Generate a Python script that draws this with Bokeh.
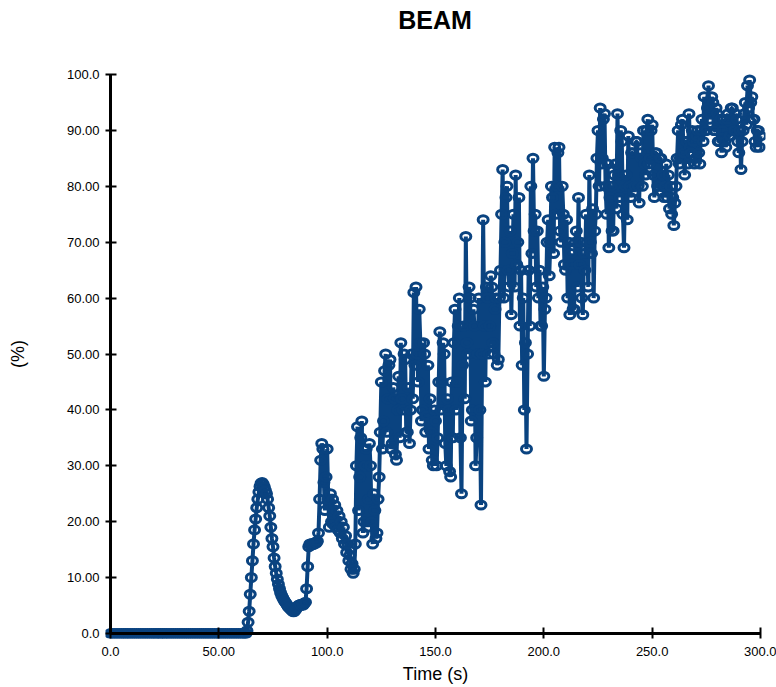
import numpy as np
from bokeh.plotting import figure
from bokeh.models import Range1d, FixedTicker, LinearAxis, Div
from bokeh.layouts import column
from bokeh.embed import file_html
from bokeh.resources import INLINE

# ---- data -------------------------------------------------------------
# 0 .. 61 s, 1 s sampling (beam off)
beam_off = [0.0, 0.0, 0.0, 0.0, 0.0, 0.0, 0.0, 0.0, 0.0, 0.0,
            0.0, 0.0, 0.0, 0.0, 0.0, 0.0, 0.0, 0.0, 0.0, 0.0,
            0.0, 0.0, 0.0, 0.0, 0.0, 0.0, 0.0, 0.0, 0.0, 0.0,
            0.0, 0.0, 0.0, 0.0, 0.0, 0.0, 0.0, 0.0, 0.0, 0.0,
            0.0, 0.0, 0.0, 0.0, 0.0, 0.0, 0.0, 0.0, 0.0, 0.0,
            0.0, 0.0, 0.0, 0.0, 0.0, 0.0, 0.0, 0.0, 0.0, 0.0,
            0.0, 0.0]
t_off_start = 0.0
t_off_step = 1.0

# 62 .. 112.5 s, 0.5 s sampling
beam_rise = [0, 0, 0.5, 2, 4, 7, 10, 13, 16, 18.5,
             20.5, 22.5, 24, 25.3, 26.3, 26.9, 27, 26.7, 26.2, 25.6,
             25, 24, 22.5, 21, 19, 17, 15.5, 13.5, 12, 10.8,
             9.7, 8.8, 8, 7.3, 6.8, 6.4, 6.0, 5.7, 5.4, 5.1,
             4.8, 4.6, 4.4, 4.2, 4.0, 3.9, 4.0, 4.3, 4.6, 4.9,
             5.1, 5.2, 5.0, 5.3, 5.1, 5.4, 5.6, 8, 12, 15.5,
             16, 15.8, 16.1, 15.9, 16, 16.3, 16.2, 16.5, 18, 24,
             31, 34, 33, 27, 22, 28, 33, 24, 19, 25,
             20, 24, 19.5, 23, 19, 22, 18.5, 21, 18, 20,
             17, 19, 16, 17.5, 14.5, 16, 13, 14, 11.5, 12.5,
             10.8, 11.5]
t_rise_start = 62.0
t_rise_step = 0.5

# 113 .. 300 s, 0.5 s sampling
beam_main = [16, 30, 37, 22, 28, 35, 38, 18, 20, 30,
             33, 19, 24, 34, 30, 20, 16, 25, 22, 17,
             18, 24, 28, 36, 45, 33, 38, 47, 50, 36,
             42, 48, 49, 33, 34, 44, 42, 32, 31, 40,
             46, 35, 52, 42, 40, 50, 49, 36, 36, 44,
             34, 40, 50, 42, 61, 48, 62, 50, 45, 58,
             52, 38, 40, 52, 50, 36, 39, 48, 33, 42,
             36, 31, 30, 40, 38, 30, 35, 45, 54, 40,
             45, 52, 50, 34, 30, 42, 40, 29, 28, 45,
             35, 52, 58, 40, 45, 55, 60, 35, 25, 48,
             55, 42, 71, 52, 50, 62, 60, 38, 40, 58,
             55, 30, 35, 50, 60, 40, 23, 50, 74, 55,
             45, 62, 60, 50, 55, 64, 62, 52, 50, 58,
             60, 48, 49, 60, 65, 75, 83, 60, 70, 78,
             80, 65, 62, 72, 57, 68, 75, 62, 82, 66,
             70, 78, 55, 65, 48, 60, 40, 52, 33, 50,
             65, 55, 80, 68, 85, 72, 75, 62, 72, 60,
             65, 55, 55, 62, 46, 58, 60, 70, 74, 64,
             70, 80, 78, 68, 87, 75, 80, 86, 87, 72,
             70, 80, 75, 66, 65, 74, 60, 70, 57, 68,
             66, 58, 58, 70, 72, 62, 78, 66, 70, 60,
             57, 68, 65, 75, 70, 62, 82, 70, 68, 76,
             60, 72, 75, 85, 90, 80, 94, 84, 85, 92,
             93, 80, 75, 84, 69, 78, 80, 72, 72, 82,
             84, 76, 93, 82, 78, 90, 88, 75, 69, 80,
             82, 74, 89, 80, 78, 86, 86, 79, 80, 88,
             88, 80, 77, 86, 85, 80, 90, 84, 82, 90,
             92, 84, 85, 90, 91, 82, 78, 86, 86, 80,
             80, 85, 85, 79, 82, 78, 80, 84, 78, 82,
             76, 80, 75, 78, 73, 77, 80, 85, 90, 84,
             85, 91, 92, 86, 82, 88, 88, 84, 93, 87,
             86, 90, 88, 84, 85, 89, 90, 86, 84, 90,
             92, 88, 96, 90, 90, 94, 98, 92, 93, 96,
             95, 90, 90, 94, 93, 88, 88, 92, 86, 90,
             92, 88, 87, 92, 93, 89, 89, 94, 94, 90,
             90, 93, 92, 88, 86, 90, 83, 88, 90, 93,
             95, 91, 98, 94, 99, 95, 96, 92, 92, 88,
             87, 90, 90, 87, 89]
t_main_start = 113.0
t_main_step = 0.5

x_ticks = [0, 50, 100, 150, 200, 250, 300]
x_tick_labels = ["0.0", "50.00", "100.0", "150.0", "200.0", "250.0", "300.0"]
y_ticks = [0, 10, 20, 30, 40, 50, 60, 70, 80, 90, 100]
y_tick_labels = ["0.0", "10.00", "20.00", "30.00", "40.00", "50.00",
                 "60.00", "70.00", "80.00", "90.00", "100.0"]

# ---- assemble series ---------------------------------------------------
t = np.concatenate([
    t_off_start + t_off_step * np.arange(len(beam_off)),
    t_rise_start + t_rise_step * np.arange(len(beam_rise)),
    t_main_start + t_main_step * np.arange(len(beam_main)),
])
v = np.concatenate([beam_off, beam_rise, beam_main]).astype(float)

NAVY = "#0a4380"
FONT = "Liberation Sans"

title = Div(text="BEAM", width=682, height=34, margin=(6, 0, 0, 94),
            styles={"font-family": FONT, "font-size": "25px",
                    "font-weight": "bold", "text-align": "center",
                    "color": "black", "line-height": "29px"})

p = figure(width=776, height=647, output_backend="svg", toolbar_location=None,
           x_range=Range1d(-2.31, 302.31), y_range=Range1d(-0.894, 100.894),
           min_border_left=105, min_border_right=11, min_border_top=29,
           min_border_bottom=49, margin=0)

p.xgrid.visible = False
p.ygrid.visible = False
p.outline_line_color = None
p.background_fill_color = "white"
p.border_fill_color = "white"

# label-only axes at the frame edges
for ax in (p.xaxis[0], p.yaxis[0]):
    ax.axis_line_color = None
    ax.major_tick_line_color = None
    ax.major_tick_in = 0
    ax.major_tick_out = 0
    ax.minor_tick_line_color = None
    ax.major_label_text_font = FONT
    ax.major_label_text_font_size = "13px"
    ax.major_label_text_color = "black"
    ax.axis_label_text_font = FONT
    ax.axis_label_text_font_size = "18px"
    ax.axis_label_text_font_style = "normal"
    ax.axis_label_text_color = "black"

p.xaxis[0].ticker = FixedTicker(ticks=x_ticks)
p.yaxis[0].ticker = FixedTicker(ticks=y_ticks)
p.xaxis[0].major_label_overrides = dict(zip(x_ticks, x_tick_labels))
p.yaxis[0].major_label_overrides = dict(zip(y_ticks, y_tick_labels))
p.xaxis[0].axis_label = "Time (s)"
p.yaxis[0].axis_label = "(%)"
p.xaxis[0].major_label_standoff = 8
p.yaxis[0].major_label_standoff = 6
p.xaxis[0].axis_label_standoff = 5
p.yaxis[0].axis_label_standoff = 36


# line + tick axes sitting at data zero
def line_axis(ticks, lo, hi):
    ax = LinearAxis(fixed_location=0, ticker=FixedTicker(ticks=ticks),
                    bounds=(lo, hi))
    ax.axis_line_width = 3
    ax.axis_line_color = "black"
    ax.major_tick_line_width = 2
    ax.major_tick_line_color = "black"
    ax.major_tick_in = 6
    ax.major_tick_out = 6
    ax.minor_tick_line_color = None
    ax.major_label_text_alpha = 0
    ax.major_label_text_font_size = "1px"
    ax.major_label_standoff = 0
    return ax


p.add_layout(line_axis(x_ticks, x_ticks[0], x_ticks[-1]), "above")
p.add_layout(line_axis(y_ticks, y_ticks[0], y_ticks[-1]), "right")

p.line(t, v, line_color=NAVY, line_width=4)
p.ellipse(t, v, width=10, height=8, width_units="screen", height_units="screen",
          fill_color=None, line_color=NAVY, line_width=3)

layout = column(title, p, spacing=0)
open("out.html", "w").write(file_html(layout, INLINE))
